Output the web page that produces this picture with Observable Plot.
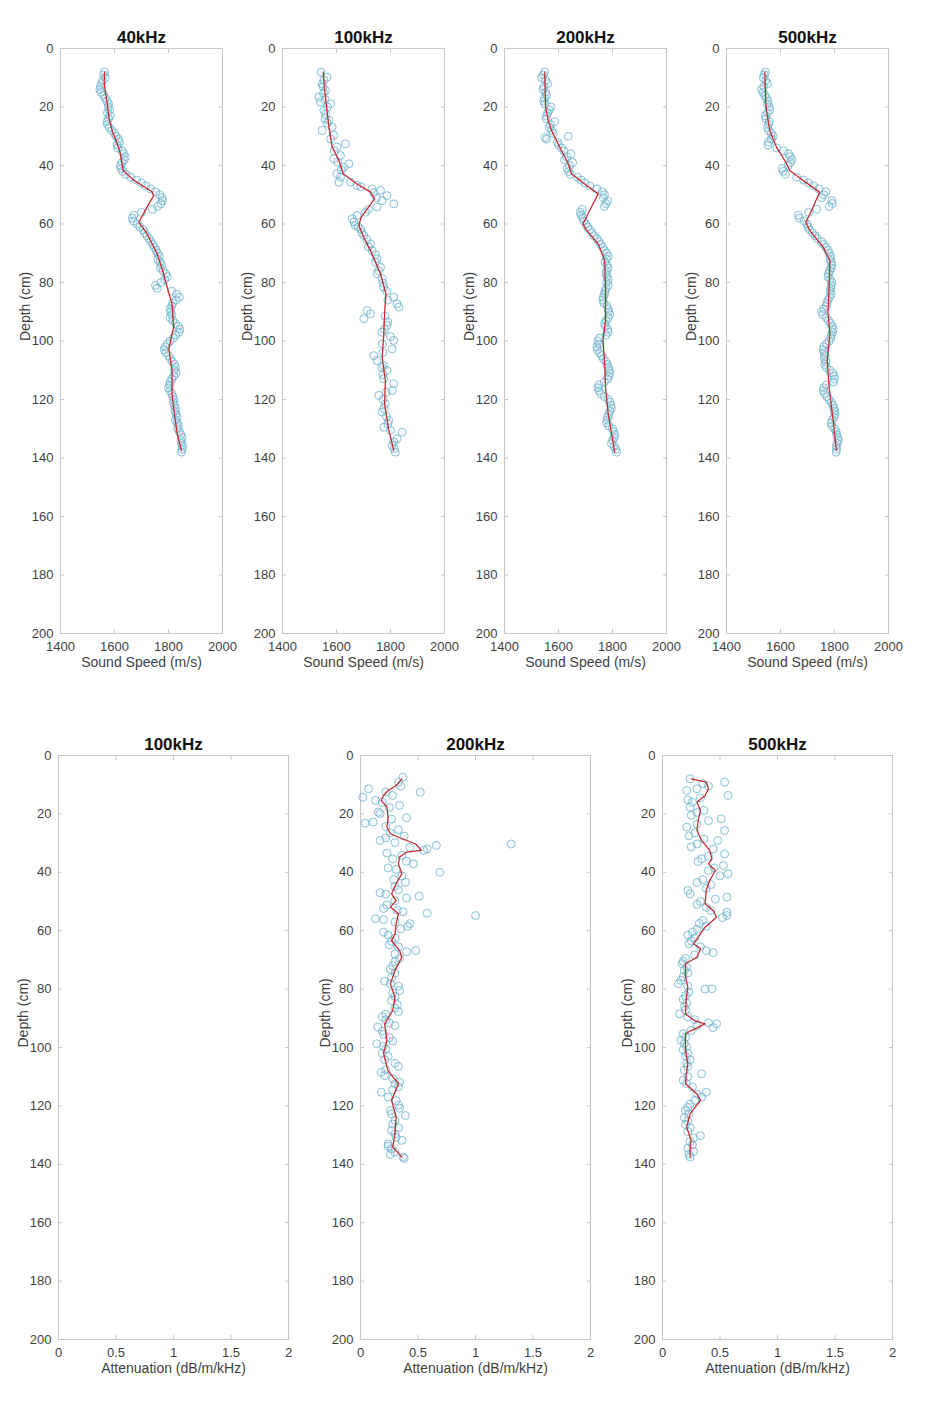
<!DOCTYPE html>
<html><head><meta charset="utf-8">
<script src="https://cdn.jsdelivr.net/npm/d3@7"></script>
<script src="https://cdn.jsdelivr.net/npm/@observablehq/plot@0.6"></script>
<style>
html,body{margin:0;padding:0;background:#fff;}
#fig{position:relative;width:945px;height:1404px;overflow:hidden;font-family:"Liberation Sans",Arial,sans-serif;}
#fig svg{position:absolute;}
</style></head><body><div id="fig"></div>
<script>
// ---- tick labels ----
const depthTicks = [0,20,40,60,80,100,120,140,160,180,200];
const speedTicks = [1400,1600,1800,2000];
const attTicks = [0,0.5,1,1.5,2];
const speedTitles = ["40kHz","100kHz","200kHz","500kHz"];
const attTitles = ["100kHz","200kHz","500kHz"];

// ---- sound speed: measured points [depth cm, speed m/s] ----
const ss40Points = [[8,1563],[9,1560],[10,1566],[11,1556],[12,1552],[13,1548],[14,1546],[15,1550],[16,1560],[17,1566],[18,1572],[19,1578],[20,1577],[21,1582],[22,1574],[23,1584],[24,1578],[25,1572],[26,1574],[27,1580],[28,1590],[29,1600],[30,1606],[31,1614],[32,1618],[33,1610],[34,1612],[35,1628],[36,1634],[37,1640],[38,1636],[39,1628],[40,1622],[41,1624],[42,1630],[43,1642],[44,1660],[45,1682],[46,1700],[47,1716],[48,1734],[49,1752],[50,1768],[51,1776],[52,1778],[53,1772],[54,1760],[55,1740],[56,1700],[57,1672],[58,1666],[59,1670],[60,1684],[61,1694],[62,1706],[63,1712],[64,1720],[65,1728],[66,1734],[67,1742],[68,1748],[69,1754],[70,1760],[71,1766],[72,1760],[73,1768],[74,1774],[75,1770],[76,1780],[77,1790],[78,1796],[79,1786],[80,1772],[81,1752],[82,1758],[83,1812],[84,1830],[85,1840],[86,1828],[87,1816],[88,1812],[89,1806],[90,1808],[91,1812],[92,1806],[93,1816],[94,1826],[95,1836],[96,1842],[97,1838],[98,1826],[99,1818],[100,1806],[101,1796],[102,1788],[103,1784],[104,1790],[105,1800],[106,1806],[107,1814],[108,1822],[109,1826],[110,1822],[111,1828],[112,1820],[113,1812],[114,1806],[115,1804],[116,1800],[117,1806],[118,1812],[119,1816],[120,1820],[121,1818],[122,1822],[123,1826],[124,1824],[125,1828],[126,1832],[127,1826],[128,1832],[129,1836],[130,1834],[131,1840],[132,1846],[133,1850],[134,1846],[135,1848],[136,1852],[137,1850],[138,1848]];
const ss100Points = [[8.1,1543],[9.8,1565],[10.8,1553],[12.1,1547],[13,1550],[14.4,1559],[15.3,1552],[16.6,1535],[17.5,1558],[18.3,1541],[18.9,1578],[20,1566],[21.2,1553],[22.5,1560],[24,1557],[24.6,1572],[25.5,1566],[26.9,1584],[28,1547],[29.7,1590],[31,1578],[32.6,1633],[33.7,1602],[35,1592],[36.6,1615],[37.7,1590],[38.8,1605],[39.4,1646],[40.6,1627],[41.5,1618],[42.8,1602],[44,1615],[45.7,1609],[45.7,1652],[46.8,1676],[47.3,1690],[48,1732],[48.5,1763],[49.3,1738],[50.3,1787],[51,1748],[52,1769],[53.1,1812],[54.2,1750],[55,1718],[56,1707],[57.1,1676],[58.2,1658],[59.3,1665],[60.5,1670],[61,1680],[61.7,1689],[63,1694],[63.9,1701],[65.3,1712],[66.8,1726],[67.8,1718],[69.1,1732],[70.5,1745],[71.9,1750],[73,1744],[74.8,1763],[76,1756],[77,1750],[78.7,1769],[80.2,1772],[81.6,1775],[83,1786],[85,1812],[86,1790],[87.3,1824],[88.4,1831],[89.6,1713],[90.7,1726],[91.5,1780],[92.4,1701],[93.5,1790],[94.7,1787],[96,1778],[97,1769],[98.5,1800],[99.8,1812],[101,1770],[102.7,1806],[104,1772],[105,1738],[106.7,1750],[108.4,1775],[109,1768],[110.1,1787],[111.5,1772],[112.9,1775],[114.6,1812],[116.9,1806],[117.5,1784],[118.6,1757],[120,1772],[121.5,1781],[123,1776],[124.3,1769],[125.8,1785],[127.2,1794],[128.3,1790],[129.5,1775],[130.5,1800],[131.2,1843],[133.4,1824],[134.5,1812],[135.7,1806],[136.8,1814],[138,1818]];
const ss200Points = [[8,1549],[9,1544],[10,1537],[11,1552],[12,1560],[13,1546],[14,1543],[15,1552],[16,1556],[17,1548],[18,1545],[19,1550],[20,1572],[21,1566],[22,1560],[23,1556],[24,1554],[25,1586],[26,1570],[27,1566],[28,1574],[29,1580],[30,1636],[30.5,1550],[31,1556],[32,1596],[33,1600],[34,1612],[35,1620],[36,1646],[37,1630],[38,1622],[39,1652],[40,1640],[41,1632],[42,1638],[43,1644],[44,1670],[45,1684],[46,1698],[47,1716],[48,1742],[49,1762],[50,1770],[51,1766],[52,1782],[53,1776],[54,1770],[55,1688],[56,1680],[57,1684],[58,1690],[59,1694],[60,1702],[61,1708],[62,1716],[63,1724],[64,1732],[65,1742],[66,1750],[67,1756],[68,1764],[69,1770],[70,1778],[71,1784],[72,1778],[73,1772],[74,1780],[75,1784],[76,1778],[77,1776],[78,1780],[79,1784],[80,1778],[81,1784],[82,1776],[83,1772],[84,1770],[85,1766],[86,1764],[87,1768],[88,1780],[89,1784],[90,1786],[91,1790],[92,1784],[93,1776],[94,1770],[95,1774],[96,1782],[97,1784],[98,1776],[99,1752],[100,1746],[101,1750],[102,1742],[103,1744],[104,1752],[105,1760],[106,1766],[107,1776],[108,1780],[109,1784],[110,1788],[111,1790],[112,1786],[113,1782],[114,1770],[115,1750],[116,1746],[117,1750],[118,1756],[119,1770],[120,1784],[121,1790],[122,1794],[123,1796],[124,1790],[125,1786],[126,1782],[127,1780],[128,1778],[129,1786],[130,1800],[131,1804],[132,1808],[133,1806],[134,1800],[135,1796],[136,1806],[137,1812],[138,1815]];
const ss500Points = [[8,1544],[9,1540],[10,1536],[11,1546],[12,1552],[13,1538],[14,1530],[15,1536],[16,1542],[17,1548],[18,1554],[19,1552],[20,1558],[21,1560],[22,1552],[23,1544],[24,1546],[25,1558],[26,1556],[27,1552],[28,1556],[29,1566],[30,1573],[31,1566],[32,1556],[33,1554],[34,1586],[35,1612],[36,1630],[37,1636],[38,1642],[39,1636],[40,1628],[41,1606],[42,1610],[43,1618],[44,1660],[45,1686],[46,1704],[47,1722],[48,1742],[49,1768],[50,1760],[51,1752],[52,1790],[53,1792],[54,1780],[55,1734],[56,1704],[57,1666],[58,1670],[59,1688],[60,1698],[61,1702],[62,1708],[63,1718],[64,1728],[65,1736],[66,1752],[67,1760],[68,1768],[69,1776],[70,1780],[71,1786],[72,1784],[73,1788],[74,1790],[75,1788],[76,1782],[77,1778],[78,1776],[79,1784],[80,1790],[81,1788],[82,1786],[83,1784],[84,1788],[85,1782],[86,1776],[87,1772],[88,1770],[89,1760],[90,1752],[91,1756],[92,1770],[93,1778],[94,1786],[95,1792],[96,1795],[97,1792],[98,1788],[99,1786],[100,1780],[101,1770],[102,1760],[103,1758],[104,1762],[105,1764],[106,1762],[107,1768],[108,1764],[109,1770],[110,1782],[111,1794],[112,1798],[113,1800],[114,1796],[115,1770],[116,1760],[117,1758],[118,1764],[119,1772],[120,1780],[121,1788],[122,1794],[123,1798],[124,1800],[125,1802],[126,1798],[127,1792],[128,1788],[129,1790],[130,1800],[131,1806],[132,1808],[133,1812],[134,1814],[135,1810],[136,1806],[137,1808],[138,1806]];

// ---- sound speed: fitted profile [depth cm, speed m/s] ----
const ss40Fit = [[8.1,1563],[12,1562],[18.9,1573],[24,1580],[28,1591],[32,1608],[36,1622],[41.7,1632],[45,1671],[47,1705],[49,1739],[50.3,1745],[55,1716],[59.4,1690],[63.4,1721],[70.2,1758],[77,1782],[79.3,1788],[87.3,1813],[95.3,1819],[102.7,1801],[110,1813],[118,1813],[127,1825],[132,1833],[137.5,1848]];
const ss100Fit = [[8.1,1551],[13.2,1555],[20,1563],[26.9,1572],[33.7,1584],[38.3,1609],[42.8,1625],[46.3,1676],[49.1,1726],[51.4,1741],[57.7,1691],[60.5,1683],[64.5,1701],[69.1,1726],[77,1763],[83.9,1783],[90.7,1778],[98.1,1775],[105.5,1769],[113.5,1781],[121.5,1778],[130.6,1794],[137.4,1812]];
const ss200Fit = [[8.1,1549],[20,1552],[24.6,1562],[28,1574],[34.9,1611],[39.4,1636],[42.8,1648],[46.3,1697],[49.7,1747],[54.2,1722],[59.9,1691],[62.2,1704],[66.8,1747],[72.5,1771],[81.6,1774],[93,1774],[99.8,1765],[107.8,1771],[115.8,1774],[124.9,1784],[132.9,1799],[138,1808]];
const ss500Fit = [[8.1,1542],[20,1546],[28,1560],[33.7,1585],[38.3,1616],[41.7,1634],[45.1,1684],[49.1,1745],[54.2,1721],[59.4,1694],[62.2,1708],[67.9,1758],[72.5,1783],[81.6,1780],[90.7,1776],[97.5,1783],[106.7,1773],[115.8,1780],[127.2,1795],[137.4,1807]];

// ---- attenuation: measured points [depth cm, dB/m/kHz] ----
const at200Points = [[7.4,0.37],[9.1,0.33],[10.5,0.35],[11.4,0.07],[12.6,0.52],[12.5,0.22],[13.7,0.28],[14.3,0.02],[15.4,0.13],[16,0.19],[17.1,0.34],[17.8,0.25],[19.4,0.155],[19.9,0.17],[21.3,0.40],[21.8,0.27],[22.8,0.11],[23.2,0.04],[24.3,0.22],[25.4,0.33],[26.5,0.26],[27.6,0.38],[28.2,0.22],[29.1,0.17],[29.8,0.30],[30.3,1.31],[30.8,0.66],[31.5,0.43],[32,0.58],[32.5,0.55],[33.4,0.23],[34.2,0.36],[35.4,0.28],[36.2,0.40],[37.1,0.46],[38.5,0.24],[39,0.31],[40,0.69],[41.3,0.36],[42.5,0.29],[43.4,0.39],[44.8,0.30],[46,0.33],[47,0.17],[47.5,0.22],[48.2,0.51],[48.8,0.40],[49.8,0.30],[51.2,0.23],[52.4,0.20],[53,0.32],[53.5,0.37],[54,0.58],[54.8,1.0],[55.9,0.13],[56.2,0.20],[57,0.30],[57.6,0.43],[58.5,0.41],[59.4,0.35],[60.5,0.20],[61.5,0.24],[62.5,0.30],[63.6,0.27],[64.8,0.25],[65.5,0.33],[66.8,0.48],[67.2,0.40],[68,0.30],[69.5,0.34],[70.6,0.30],[72,0.28],[73.2,0.26],[74.5,0.30],[76,0.27],[77.3,0.21],[78.2,0.26],[79,0.33],[80.5,0.34],[81.3,0.28],[82.5,0.30],[84,0.27],[85.3,0.32],[86.5,0.30],[87.7,0.33],[88.6,0.22],[89.5,0.19],[90.5,0.22],[91.6,0.25],[92.5,0.30],[93,0.15],[94.4,0.19],[95.5,0.20],[96.6,0.25],[97.8,0.28],[98.7,0.14],[99.6,0.20],[100.5,0.22],[102,0.19],[103,0.24],[104.2,0.21],[105.4,0.30],[106.5,0.33],[107.6,0.22],[108.5,0.18],[109.6,0.21],[110.7,0.28],[111.9,0.34],[112.5,0.30],[113.5,0.33],[114.5,0.28],[115.3,0.18],[117,0.24],[118.2,0.31],[119.8,0.33],[120.8,0.34],[121.6,0.26],[122.7,0.27],[123.3,0.39],[125,0.30],[126.2,0.28],[127.5,0.33],[128.4,0.27],[129.6,0.30],[130.8,0.31],[131.8,0.36],[133,0.24],[133.8,0.24],[134.7,0.27],[135.8,0.30],[136.6,0.26],[137.5,0.37],[138,0.38]];
const at500Points = [[8,0.24],[9.1,0.54],[9.6,0.35],[10.5,0.40],[11.4,0.30],[12,0.21],[13.7,0.57],[14.5,0.33],[15.2,0.22],[16,0.26],[17.7,0.24],[18.8,0.36],[19.5,0.30],[20.5,0.25],[21.7,0.51],[22.3,0.40],[23.5,0.30],[24.5,0.21],[25.7,0.54],[26.5,0.28],[27.5,0.23],[28.6,0.36],[29.1,0.48],[30.3,0.30],[31.3,0.25],[32,0.44],[33.7,0.54],[34.5,0.40],[35.4,0.34],[36.3,0.31],[37.7,0.53],[38.5,0.45],[39.4,0.40],[40.5,0.57],[41.2,0.50],[42.5,0.35],[43.5,0.30],[44.2,0.42],[45.5,0.38],[46.2,0.22],[47.4,0.24],[48.5,0.56],[49.2,0.46],[50,0.33],[51,0.30],[52,0.38],[53.1,0.42],[53.7,0.56],[54.8,0.56],[55.5,0.52],[56.5,0.35],[57.5,0.32],[58.5,0.38],[59.5,0.30],[60.5,0.26],[61.5,0.22],[62.5,0.28],[63.5,0.25],[64.5,0.23],[65.5,0.33],[66.8,0.38],[67.5,0.44],[68.3,0.28],[69.5,0.20],[70.5,0.18],[71.3,0.17],[72.5,0.21],[73.5,0.19],[74.5,0.22],[75.8,0.18],[77,0.16],[78.2,0.14],[79,0.22],[79.9,0.43],[80,0.37],[81,0.23],[82.2,0.20],[83.5,0.18],[84.8,0.21],[86,0.19],[87.2,0.20],[88.5,0.15],[89.5,0.22],[90.5,0.28],[91.5,0.40],[91.9,0.47],[92.5,0.30],[93.2,0.44],[94.2,0.25],[95.3,0.18],[96.5,0.20],[97.5,0.16],[98.6,0.19],[99.7,0.21],[100.8,0.18],[102,0.22],[103,0.20],[104.2,0.24],[105.4,0.21],[106.5,0.22],[107.8,0.19],[109,0.34],[110,0.22],[111.2,0.18],[112.4,0.21],[113.5,0.26],[115.3,0.38],[116,0.30],[117,0.34],[118.1,0.28],[119.4,0.24],[120.5,0.22],[121.6,0.20],[122.7,0.23],[124,0.19],[125.2,0.22],[126.4,0.20],[127.5,0.24],[128.8,0.22],[130.2,0.33],[131,0.27],[132.2,0.24],[133.4,0.26],[134.5,0.22],[135.6,0.27],[136.6,0.23],[137.5,0.24]];

// ---- attenuation: fitted profile [depth cm, dB/m/kHz] ----
const at200Fit = [[8,0.36],[10.3,0.31],[12,0.24],[13.7,0.20],[15.4,0.18],[17.7,0.23],[21.1,0.24],[24.5,0.23],[26.8,0.26],[28,0.33],[30.3,0.48],[32.5,0.53],[33.1,0.40],[34.8,0.34],[37.1,0.33],[40.5,0.36],[43.9,0.31],[47.4,0.27],[49.7,0.31],[51.9,0.26],[54.2,0.33],[57.6,0.31],[61.1,0.30],[63.4,0.27],[66.8,0.34],[69.1,0.36],[73.6,0.30],[78.2,0.26],[82.8,0.30],[87.3,0.28],[91.9,0.21],[97.6,0.23],[102,0.20],[108,0.24],[112.4,0.33],[118.1,0.27],[123.8,0.31],[129.6,0.30],[134.1,0.28],[137.5,0.36]];
const at500Fit = [[8,0.25],[9.1,0.38],[11.4,0.40],[13.7,0.37],[16,0.30],[18.8,0.33],[22.3,0.31],[25.7,0.30],[29.1,0.34],[32.5,0.41],[35.4,0.43],[37.1,0.40],[39.4,0.46],[42.8,0.41],[46.2,0.38],[50.8,0.37],[53.1,0.44],[55.4,0.47],[58.8,0.37],[62.2,0.31],[64.5,0.27],[66.2,0.33],[69.1,0.30],[71.3,0.20],[75.9,0.20],[79.3,0.22],[83.9,0.205],[88.5,0.20],[90.8,0.28],[91.9,0.37],[94.2,0.25],[95.3,0.20],[101,0.20],[105.6,0.22],[108,0.21],[112.4,0.20],[115.9,0.30],[118.1,0.33],[122.7,0.24],[127.3,0.21],[131.8,0.25],[134.1,0.24],[137.5,0.24]];

const FONT = '"Liberation Sans", Arial, Helvetica, sans-serif';
const BOX = "#c6c6c6";
const TXT = "#3f3f3f";
const fig = document.getElementById("fig");

function panel({left, top, w, h, title, xDomain, xTicks, xFmt, xLabel, pts, fit}) {
  const ML = 70, MR = 30, MT = 40, MB = 50;
  const marks = [
    Plot.frame({stroke: BOX}),
    Plot.axisY({anchor: "left", ticks: depthTicks, tickSize: 0, tickPadding: 7, label: null, color: TXT}),
    Plot.axisY({anchor: "left", ticks: depthTicks, tickSize: -4, tickFormat: () => "", label: null, color: BOX}),
    Plot.axisY({anchor: "right", ticks: depthTicks, tickSize: -4, tickFormat: () => "", label: null, color: BOX}),
    Plot.axisX({anchor: "bottom", ticks: xTicks, tickSize: 0, tickPadding: 8, tickFormat: xFmt, label: null, color: TXT}),
    Plot.axisX({anchor: "bottom", ticks: xTicks, tickSize: -4, tickFormat: () => "", label: null, color: BOX}),
    Plot.axisX({anchor: "top", ticks: xTicks, tickSize: -4, tickFormat: () => "", label: null, color: BOX}),
    Plot.text([title], {text: d => d, frameAnchor: "top", dy: -6, lineAnchor: "bottom", fontWeight: "bold", fontSize: 17, fill: "#111"}),
    Plot.text([xLabel], {text: d => d, frameAnchor: "bottom", dy: 29, lineAnchor: "middle", fontSize: 14, fill: TXT}),
    Plot.text(["Depth (cm)"], {text: d => d, frameAnchor: "left", dx: -35, rotate: -90, fontSize: 14, fill: TXT})
  ];
  if (pts) {
    marks.push(Plot.dot(pts, {x: d => d[1], y: d => d[0], r: 4, stroke: "#5fa9c5", strokeWidth: 1, strokeOpacity: 0.7, fill: "#a9d6e6", fillOpacity: 0.12}));
    marks.push(Plot.line(fit, {x: d => d[1], y: d => d[0], stroke: "#c8282c", strokeWidth: 1.25}));
  }
  const svg = Plot.plot({
    width: w + ML + MR, height: h + MT + MB,
    marginLeft: ML, marginRight: MR, marginTop: MT, marginBottom: MB,
    style: {background: "transparent", fontFamily: FONT, fontSize: "13px", overflow: "visible"},
    x: {domain: xDomain},
    y: {domain: [0, 200], reverse: true},
    marks
  });
  svg.style.left = (left - ML) + "px";
  svg.style.top = (top - MT) + "px";
  fig.appendChild(svg);
}

const speedPts = [ss40Points, ss100Points, ss200Points, ss500Points];
const speedFits = [ss40Fit, ss100Fit, ss200Fit, ss500Fit];
const topLefts = [60, 282, 504, 726];
speedTitles.forEach((t, i) => panel({
  left: topLefts[i], top: 48, w: 162, h: 585, title: t,
  xDomain: [1400, 2000], xTicks: speedTicks, xFmt: d => String(d), xLabel: "Sound Speed (m/s)",
  pts: speedPts[i], fit: speedFits[i]
}));

const attPts = [null, at200Points, at500Points];
const attFits = [null, at200Fit, at500Fit];
const botLefts = [58, 360, 662];
attTitles.forEach((t, i) => panel({
  left: botLefts[i], top: 755, w: 230, h: 584, title: t,
  xDomain: [0, 2], xTicks: attTicks, xFmt: d => String(d), xLabel: "Attenuation (dB/m/kHz)",
  pts: attPts[i], fit: attFits[i]
}));
</script></body></html>
